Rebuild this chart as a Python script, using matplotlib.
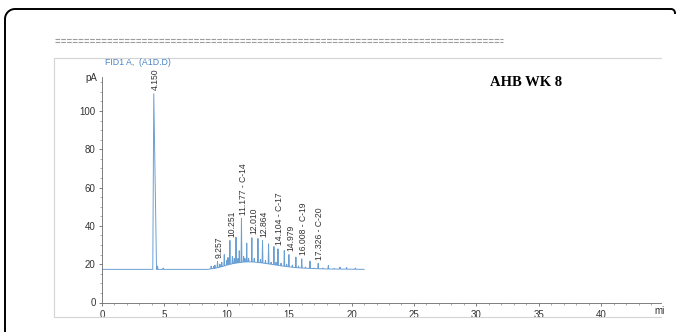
import numpy as np
import matplotlib
matplotlib.use("Agg")
import matplotlib.pyplot as plt
from matplotlib.lines import Line2D

plt.rcParams['font.family'] = ['Liberation Sans', 'DejaVu Sans']

W, H = 677, 332

# slow baseline drift (min, pA)
base_t = [0.0, 8.5, 9.0, 9.5, 10.0, 10.5, 11.0, 11.5, 12.0, 12.5, 13.0, 13.5,
          14.0, 14.5, 15.0, 15.5, 16.0, 17.0, 18.0, 20.0, 21.0]
base_y = [17.3, 17.3, 17.8, 18.5, 19.5, 20.3, 20.8, 21.2, 21.2, 20.9, 20.5, 20.0,
          19.5, 19.0, 18.6, 18.2, 18.0, 17.7, 17.5, 17.4, 17.3]

# solvent peak
main_t, main_h = 4.150, 109.0

# smaller peaks (retention time min, height pA)
peak_t = [4.45, 4.90, 8.75, 8.95, 9.05, 9.257, 9.45, 9.60, 9.80, 10.00, 10.10,
          10.251, 10.45, 10.60, 10.74, 10.90, 11.00, 11.177, 11.35, 11.45, 11.60,
          11.75, 12.010, 12.20, 12.50, 12.70, 12.864, 13.10, 13.35, 13.55, 13.78,
          13.95, 14.104, 14.35, 14.61, 14.80, 14.979, 15.25, 15.54, 15.75, 16.008,
          16.30, 16.67, 17.00, 17.326, 17.70, 18.14, 18.60, 19.07, 19.60, 20.30]
peak_h = [19.0, 18.0, 19.0, 18.8, 19.5, 21.5, 20.0, 21.0, 25.0, 22.0, 23.5,
          32.4, 24.0, 23.0, 34.1, 23.0, 27.0, 43.8, 24.0, 23.0, 31.0,
          23.0, 33.8, 23.0, 33.4, 22.5, 32.4, 22.0, 30.6, 21.0, 29.2,
          21.0, 28.0, 20.5, 27.1, 20.0, 25.0, 19.5, 23.7, 19.0, 22.8,
          18.5, 21.6, 18.0, 20.4, 18.0, 19.3, 17.8, 18.5, 18.3, 18.0]

labels = ['4.150', '9.257', '10.251', '11.177 - C-14', '12.010', '12.864',
          '14.104 - C-17', '14.979', '16.008 - C-19', '17.326 - C-20']
label_t = [4.150, 9.257, 10.251, 11.177, 12.010, 12.864, 14.104, 14.979, 16.008, 17.326]

# assemble the trace: baseline knots plus narrow triangular spikes
hw = 0.035
verts = [(main_t - 0.08, 17.3), (main_t, main_h), (main_t + 0.22, 17.3)]
for t, h in zip(peak_t, peak_h):
    b = float(np.interp(t, base_t, base_y))
    verts += [(t - hw, b), (t, h), (t + hw, b)]
windows = [(main_t - 0.08, main_t + 0.22)] + [(t - hw, t + hw) for t in peak_t]
for t, y in zip(base_t, base_y):
    if not any(a <= t <= c for a, c in windows):
        verts.append((t, y))
verts.sort(key=lambda v: v[0])
tx = [v[0] for v in verts]
ty = [v[1] for v in verts]

fig = plt.figure(figsize=(W / 100, H / 100), dpi=100)

def fx(px):
    return px / W

def fy(py):
    return 1 - py / H

def corner(cx, cy, r, a0, a1):
    a = np.radians(np.linspace(a0, a1, 12))
    return cx + r * np.cos(a), cy - r * np.sin(a)

# outer border: left edge, rounded top-left, top edge, small top-right hook
r = 10
ax_, ay_ = corner(5 + r, 9 + r, r, 180, 90)
bx_, by_ = corner(675 - 4, 9 + 4, 4, 90, 0)
px = np.concatenate([[5], ax_, bx_])
py = np.concatenate([[340], ay_, by_])
fig.add_artist(Line2D(fx(px), fy(py), transform=fig.transFigure, color='black',
                      linewidth=1.4, solid_joinstyle='round'))

# double dashed rule
for yy in (39.3, 41.5):
    fig.add_artist(Line2D([fx(55), fx(503)], [fy(yy), fy(yy)], transform=fig.transFigure,
                          color='#9c9c9c', linewidth=0.8, dashes=(4.2, 1.0)))

# light frame around the plot
frame_c = '#d4d4d4'
fig.add_artist(Line2D([fx(661), fx(54), fx(54), fx(661)], [fy(58), fy(58), fy(317), fy(317)],
                      transform=fig.transFigure, color=frame_c, linewidth=0.8))

ax = fig.add_axes([fx(102), fy(302.5), fx(661) - fx(102), fy(76.5) - fy(302.5)])
ax.plot(tx, ty, color='#6a9fd4', linewidth=0.7)
ax.set_xlim(0, 44.8)
ax.set_ylim(0, 118)

for s in ('top', 'right'):
    ax.spines[s].set_visible(False)
for s in ('left', 'bottom'):
    ax.spines[s].set_color('#6a6a6a')
    ax.spines[s].set_linewidth(0.6)

ax.set_xticks(np.arange(0, 45, 5))
ax.set_xticks(np.arange(0, 45, 1), minor=True)
ax.set_yticks(np.arange(0, 101, 20))
ax.set_yticks(np.arange(0, 116, 5), minor=True)
ax.tick_params(which='major', length=2.5, width=0.6, color='#6a6a6a', labelsize=7,
               labelcolor='#333333', pad=2)
ax.tick_params(which='minor', length=1.5, width=0.5, color='#8a8a8a')
ax.tick_params(axis='x', which='major', pad=3)

ax.text(-0.4, 117, 'pA', ha='right', va='center', fontsize=7, color='#333333')
fig.text(fx(654), fy(311.5), 'mi', ha='left', va='center', fontsize=7, color='#333333')
fig.text(fx(105), fy(62.5), 'FID1 A,  (A1D.D)', ha='left', va='center', fontsize=6.3,
         color='#4a84c8')
fig.text(fx(490), fy(82), 'AHB WK 8', ha='left', va='center', fontsize=10.5,
         fontweight='bold', family=['Liberation Serif', 'DejaVu Serif'], color='black')

all_t = [main_t] + peak_t
all_h = [main_h] + peak_h
for lab, t in zip(labels, label_t):
    h = all_h[all_t.index(t)]
    ax.annotate(lab, (t, h), xytext=(1.2, 2.5), textcoords='offset points',
                rotation=90, ha='center', va='bottom', fontsize=6.2, color='#333333')

fig.savefig('out.png', dpi=100)
